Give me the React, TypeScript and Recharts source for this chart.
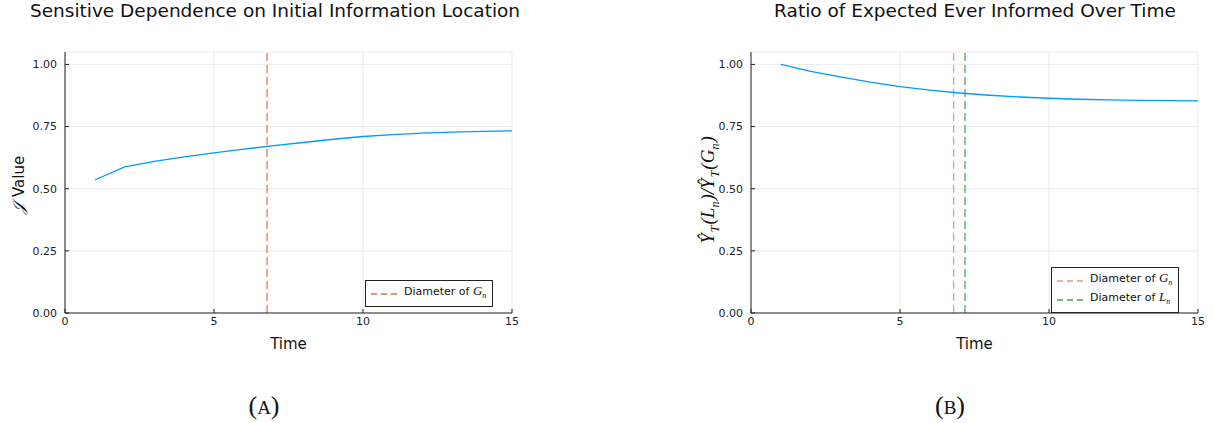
import React from 'react';
import { LineChart, Line, XAxis, YAxis, CartesianGrid, ReferenceLine } from 'recharts';

const times = [1, 2, 3, 4, 5, 6, 7, 8, 9, 10, 11, 12, 13, 14, 15];
const jValues = [0.535, 0.588, 0.61, 0.628, 0.644, 0.659, 0.673, 0.686, 0.699, 0.71, 0.718, 0.724, 0.728, 0.731, 0.733];
const ratioValues = [1.0, 0.972, 0.95, 0.929, 0.911, 0.897, 0.885, 0.876, 0.869, 0.864, 0.86, 0.857, 0.855, 0.854, 0.853];
const diameterG = 6.78;
const diameterGB = 6.8;
const diameterL = 7.18;
const xTicks = [0, 5, 10, 15];
const yTicks = [0, 0.25, 0.5, 0.75, 1.0];

const dataA = times.map((t, i) => ({ t, v: jValues[i] }));
const dataB = times.map((t, i) => ({ t, v: ratioValues[i] }));

const BLUE = '#009afa';
const ORANGE = '#e26f46';
const ORANGE_LIGHT = '#ef9477';
const GREEN = '#3ea44e';
const SANS = '"DejaVu Sans", sans-serif';
const SERIF = '"Liberation Serif", "DejaVu Serif", serif';
const DASH = '8 4';

const W = 530;
const H = 360;
const margin = { top: 52, right: 18, left: 25, bottom: 11 };

const tickStyle = { fontSize: 11, fill: '#222', fontFamily: SANS };

const LegendBox: React.FC<{ items: { color: string; letter: string }[]; left: number; top: number }> = ({ items, left, top }) => (
  <div
    style={{
      position: 'absolute',
      left,
      top,
      border: '1px solid #222',
      background: '#fff',
      padding: '3px 6px 3px 5px',
      fontFamily: SANS,
      fontSize: 11,
      lineHeight: '14px',
      color: '#111',
    }}
  >
    {items.map((it) => (
      <div key={it.letter} style={{ display: 'flex', alignItems: 'center', whiteSpace: 'nowrap' }}>
        <svg width={30} height={10} style={{ marginRight: 3 }}>
          <line x1={0} y1={5} x2={30} y2={5} stroke={it.color} strokeWidth={1.3} strokeDasharray="6 4" />
        </svg>
        <span>
          Diameter of <span style={{ fontFamily: SERIF, fontStyle: 'italic', fontSize: 13 }}>{it.letter}</span>
          <span style={{ fontFamily: SERIF, fontStyle: 'italic', fontSize: 8, verticalAlign: -3 }}>n</span>
        </span>
      </div>
    ))}
  </div>
);

const TitleText: React.FC<{ text: string; center: number }> = ({ text, center }) => (
  <div
    style={{
      position: 'absolute',
      left: center - 300,
      width: 600,
      top: 0,
      textAlign: 'center',
      fontFamily: SANS,
      fontSize: 18.5,
      color: '#111',
    }}
  >
    {text}
  </div>
);

const Caption: React.FC<{ letter: string; center: number }> = ({ letter, center }) => (
  <div
    style={{
      position: 'absolute',
      left: center - 50,
      width: 100,
      top: 391,
      textAlign: 'center',
      fontFamily: SERIF,
      fontSize: 26,
      lineHeight: '30px',
      color: '#111',
    }}
  >
    (<span style={{ fontSize: 19 }}>{letter}</span>)
  </div>
);

// script J and "Value" drawn as two pieces so the gap between them stays visible
const YLabelA = () => (
  <g>
    <text x={24} y={214} transform="rotate(-90 24 214)" textAnchor="start" fontFamily={SERIF} fontStyle="italic" fontSize={16} fill="#111">
      𝒥
    </text>
    <text x={24} y={197} transform="rotate(-90 24 197)" textAnchor="start" fontFamily={SANS} fontSize={15} fill="#111">
      Value
    </text>
  </g>
);

const YLabelB = () => (
  <text x={28} y={190} transform="rotate(-90 28 190)" textAnchor="middle" fontFamily={SERIF} fontStyle="italic" fontSize={19} fill="#111">
    <tspan>Ŷ</tspan>
    <tspan fontSize={12} dy={5} dx={1}>T</tspan>
    <tspan dy={-5} dx={1}>(L</tspan>
    <tspan fontSize={12} dy={5}>n</tspan>
    <tspan dy={-5} dx={1}>)/Ŷ</tspan>
    <tspan fontSize={12} dy={5} dx={1}>T</tspan>
    <tspan dy={-5} dx={1}>(G</tspan>
    <tspan fontSize={12} dy={5}>n</tspan>
    <tspan dy={-5} dx={1}>)</tspan>
  </text>
);

const Panel: React.FC<{ data: { t: number; v: number }[]; children?: React.ReactNode; label: React.ReactNode }> = ({
  data,
  children,
  label,
}) => (
  <LineChart width={W} height={H} data={data} margin={margin}>
    <CartesianGrid stroke="#ebebeb" strokeWidth={1} />
    <XAxis
      dataKey="t"
      type="number"
      domain={[0, 15]}
      ticks={xTicks}
      allowDataOverflow
      height={36}
      stroke="#222"
      tickSize={-4}
      tickMargin={8}
      tick={tickStyle}
      label={{ value: 'Time', position: 'insideBottom', offset: 0, fontSize: 15, fill: '#111', fontFamily: SANS }}
    />
    <YAxis
      type="number"
      domain={[0, 1.05]}
      ticks={yTicks}
      allowDataOverflow
      width={40}
      stroke="#222"
      tickSize={-4}
      tickMargin={12}
      tick={tickStyle}
      tickFormatter={(v: number) => v.toFixed(2)}
    />
    {children}
    <Line type="linear" dataKey="v" stroke={BLUE} strokeWidth={1.3} dot={false} isAnimationActive={false} />
    {label}
  </LineChart>
);

const App: React.FC = () => (
  <div style={{ position: 'absolute', left: 0, top: 0, width: 1213, height: 423, background: '#fff', overflow: 'hidden' }}>
    <TitleText text="Sensitive Dependence on Initial Information Location" center={275} />
    <TitleText text="Ratio of Expected Ever Informed Over Time" center={975} />
    <div style={{ position: 'absolute', left: 0, top: 0 }}>
      <Panel data={dataA} label={<YLabelA />}>
        <ReferenceLine x={diameterG} stroke={ORANGE} strokeDasharray={DASH} strokeWidth={1.2} />
      </Panel>
    </div>
    <div style={{ position: 'absolute', left: 686, top: 0 }}>
      <Panel data={dataB} label={<YLabelB />}>
        <ReferenceLine x={diameterGB} stroke={ORANGE_LIGHT} strokeDasharray={DASH} strokeWidth={1.2} />
        <ReferenceLine x={diameterL} stroke={GREEN} strokeDasharray={DASH} strokeWidth={1.2} />
      </Panel>
    </div>
    <LegendBox items={[{ color: ORANGE, letter: 'G' }]} left={365} top={280} />
    <LegendBox
      items={[
        { color: ORANGE_LIGHT, letter: 'G' },
        { color: GREEN, letter: 'L' },
      ]}
      left={1051}
      top={267}
    />
    <Caption letter="A" center={264} />
    <Caption letter="B" center={950} />
  </div>
);

export default App;
